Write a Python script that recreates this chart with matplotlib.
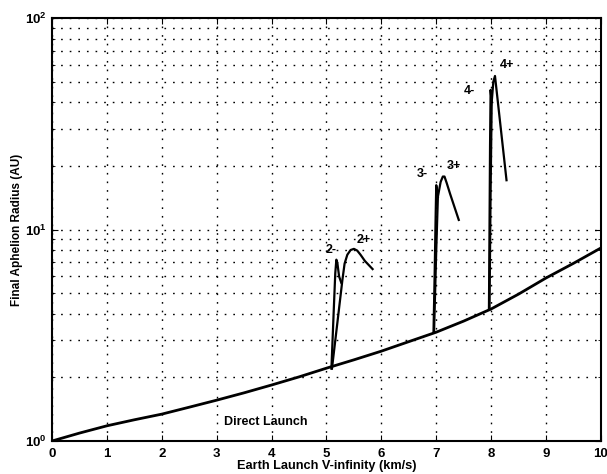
import numpy as np
import matplotlib
matplotlib.use('Agg')
import matplotlib.pyplot as plt

plt.rcParams['font.family'] = 'Liberation Sans'
plt.rcParams['font.weight'] = 'bold'
plt.rcParams['mathtext.fontset'] = 'custom'
plt.rcParams['mathtext.rm'] = 'Liberation Sans:bold'
plt.rcParams['mathtext.it'] = 'Liberation Sans:bold'
plt.rcParams['mathtext.bf'] = 'Liberation Sans:bold'

# direct launch curve
direct_v = [0, 0.5, 1, 1.5, 2, 2.5, 3, 3.5, 4, 4.5, 5,
            5.5, 6, 6.5, 7, 7.5, 8, 8.5, 9, 9.5, 10]
direct_r = [1.0, 1.09, 1.18, 1.26, 1.34, 1.445, 1.56, 1.69, 1.84, 2.01, 2.21,
            2.42, 2.66, 2.95, 3.27, 3.69, 4.21, 4.95, 5.9, 6.92, 8.18]

# gravity assist branches ("-" and "+")
v2_minus = [5.09, 5.13, 5.16, 5.18, 5.20, 5.23, 5.27]
r2_minus = [2.2, 4.0, 6.2, 7.2, 6.9, 6.0, 5.6]
v2_plus = [5.10, 5.20, 5.29, 5.33, 5.38, 5.44, 5.50, 5.56, 5.62, 5.70, 5.84]
r2_plus = [2.2, 3.65, 5.77, 6.9, 7.6, 8.0, 8.1, 7.95, 7.6, 7.1, 6.5]

v3_minus = [6.95, 6.97, 6.99, 7.00, 7.01, 7.03]
r3_minus = [3.28, 6.0, 12.0, 16.2, 15.5, 14.3]
v3_plus = [6.96, 7.00, 7.03, 7.08, 7.12, 7.15, 7.19, 7.25, 7.41]
r3_plus = [3.28, 8.0, 14.3, 16.8, 17.8, 17.8, 16.6, 14.8, 11.1]

v4_minus = [7.96, 7.97, 7.98, 7.99, 8.01]
r4_minus = [4.2, 10.0, 25.0, 45.7, 40.0]
v4_plus = [7.97, 7.99, 8.01, 8.04, 8.07, 8.28]
r4_plus = [4.2, 15.0, 40.0, 50.0, 53.2, 17.1]

labels = ['2-', '2+', '3-', '3+', '4-', '4+']
label_v = [5.09, 5.67, 6.74, 7.33, 7.60, 8.28]
label_r = [8.0, 8.92, 18.3, 19.95, 45.2, 60.0]

fig = plt.figure(figsize=(6.07, 4.74), dpi=100)
ax = fig.add_axes([0.0857, 0.0696, 0.9043, 0.8924])

ax.plot(direct_v, direct_r, color='black', lw=2.0)
for v, r in [(v2_minus, r2_minus), (v2_plus, r2_plus),
             (v3_minus, r3_minus), (v3_plus, r3_plus),
             (v4_minus, r4_minus), (v4_plus, r4_plus)]:
    ax.plot(v, r, color='black', lw=1.6)

for t, v, r in zip(labels, label_v, label_r):
    ax.text(v, r, t, fontsize=9, fontweight='bold', ha='center', va='center')
ax.text(3.9, 1.23, 'Direct Launch', fontsize=9, fontweight='bold',
        ha='center', va='center')

ax.set_yscale('log')
ax.set_xlim(0, 10)
ax.set_ylim(1, 100)
ax.set_xticks(range(0, 11))
ax.set_yticks([1, 10, 100])
ax.set_yticklabels([r'$10^{0}$', r'$10^{1}$', r'$10^{2}$'])
ax.tick_params(axis='both', which='both', direction='in', top=True, right=True,
               labelsize=9.5)
ax.tick_params(which='major', length=4)
ax.tick_params(which='minor', length=2)
ax.tick_params(axis='x', pad=5)
for lbl in ax.get_xticklabels():
    lbl.set_fontweight('bold')

dots = (0, (1.2, 5))
ax.grid(True, which='major', axis='x', color='black', linestyle=dots, lw=1.0)
ax.grid(True, which='both', axis='y', color='black', linestyle=dots, lw=1.0)

for s in ax.spines.values():
    s.set_linewidth(1.5)

ax.set_xlabel('Earth Launch V-infinity (km/s)', fontsize=9.2, fontweight='bold', labelpad=0)
ax.set_ylabel('Final Aphelion Radius (AU)', fontsize=8.5, fontweight='bold', labelpad=2)

fig.savefig('out.png', dpi=100)
